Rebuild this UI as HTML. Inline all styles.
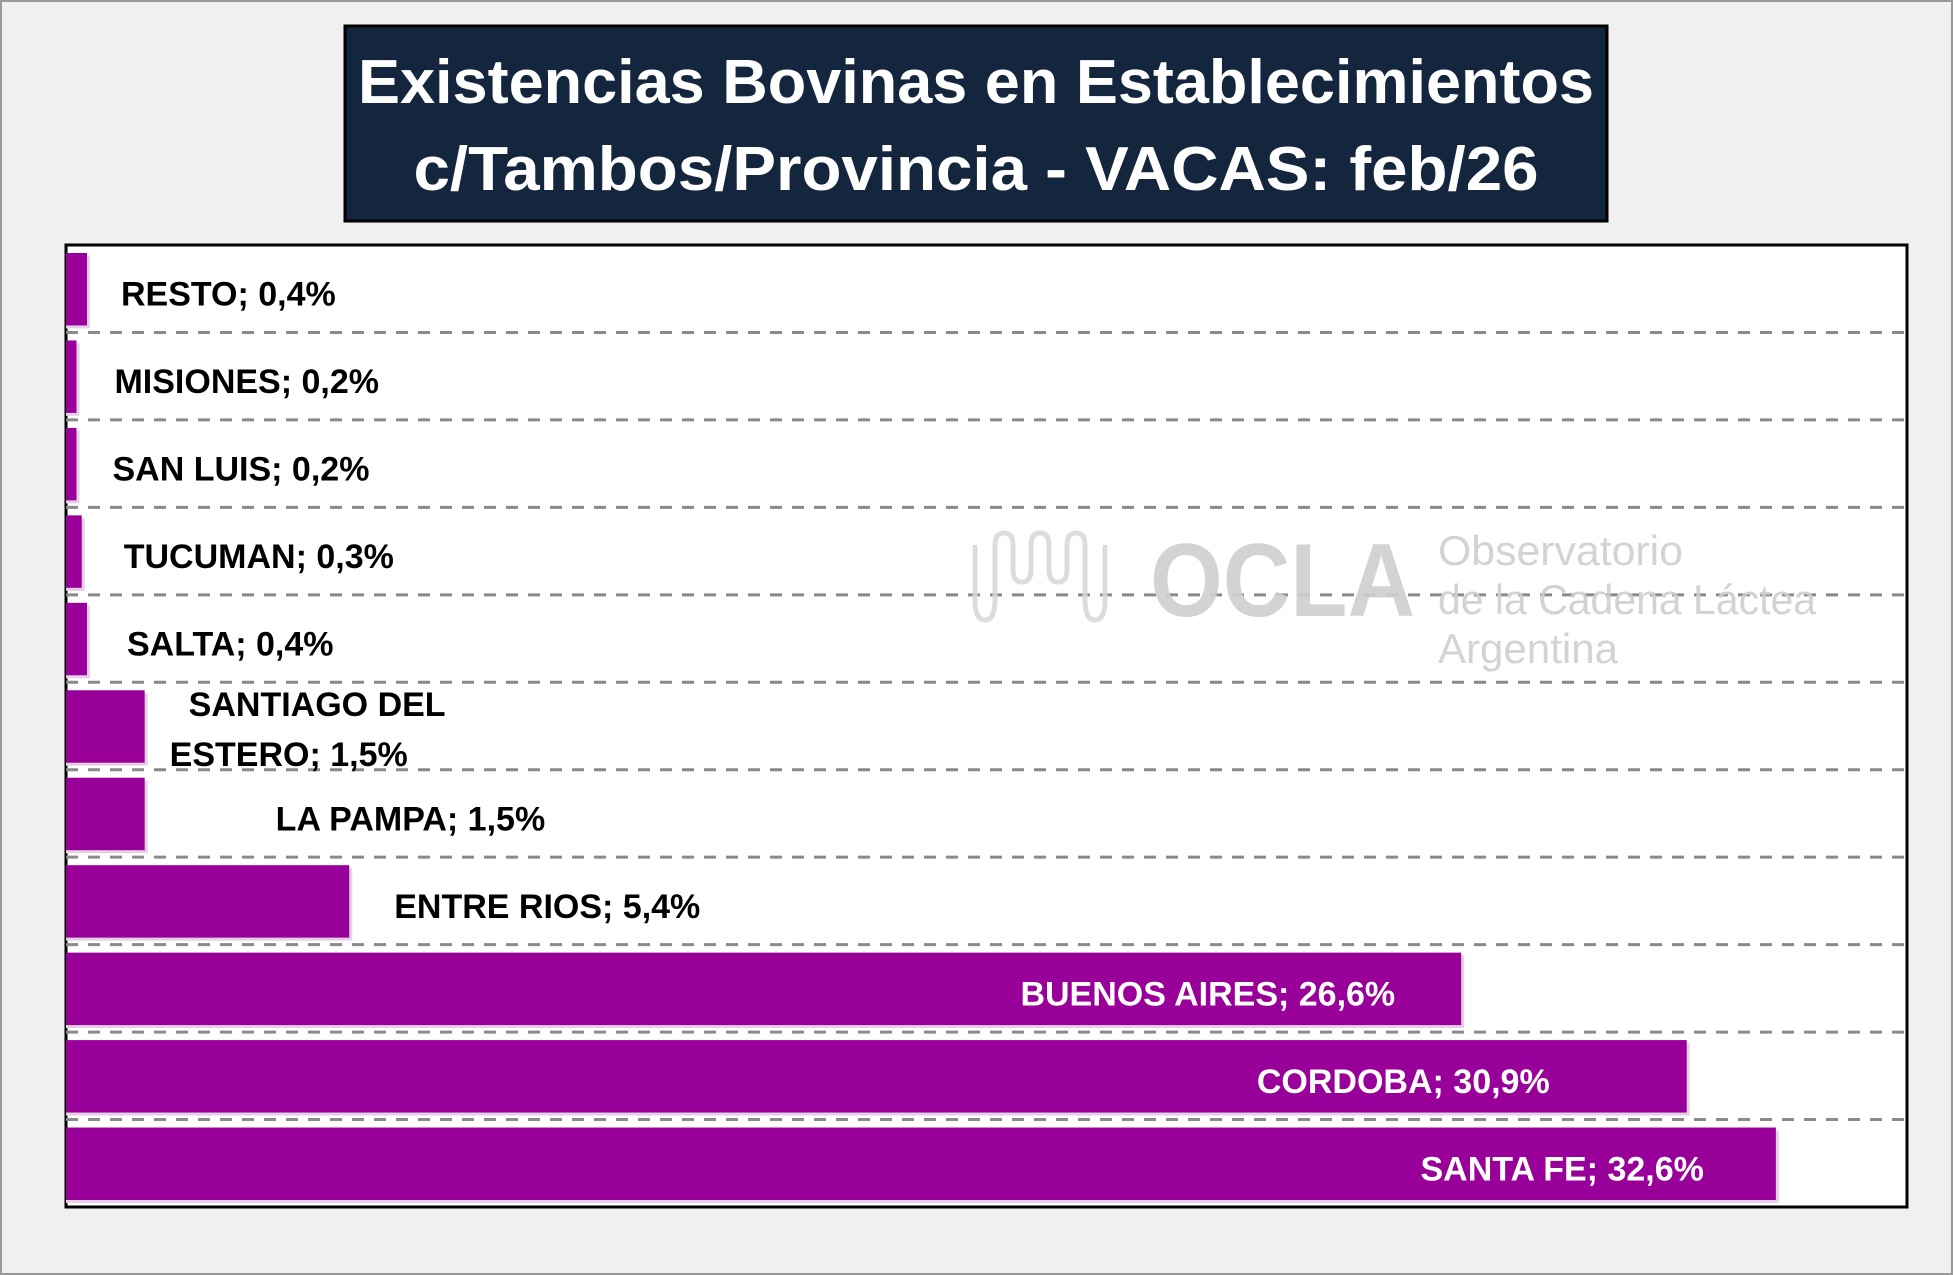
<!DOCTYPE html>
<html><head><meta charset="utf-8">
<style>
html,body{margin:0;padding:0;background:#f0f0f0;}
svg{display:block;}
text{font-family:"Liberation Sans",sans-serif;font-weight:bold;}
</style></head>
<body>
<svg id="chart" width="1953" height="1275" viewBox="0 0 1953 1275">
  <rect x="1" y="1" width="1951" height="1273" fill="#f0f0f0" stroke="#999" stroke-width="2"/>
  <g>
    <rect x="345" y="26" width="1262" height="195" fill="#14253e" stroke="#000" stroke-width="3"/>
    <text x="976" y="103" text-anchor="middle" font-size="62" fill="#fff" textLength="1236" lengthAdjust="spacingAndGlyphs">Existencias Bovinas en Establecimientos</text>
    <text x="976" y="190" text-anchor="middle" font-size="62" fill="#fff" textLength="1125" lengthAdjust="spacingAndGlyphs">c/Tambos/Provincia - VACAS: feb/26</text>
  </g>
  <rect x="66" y="245" width="1841" height="962" fill="#fff" stroke="#000" stroke-width="3"/>
  <g id="grid"></g>
  <g opacity="0.9">
    <path d="M975 545 v55 q0 20 10 20 q10 0 10 -20 v-55 q0 -12 9 -12 q9 0 9 12 v25 q0 12 9 12 q9 0 9 -12 v-25 q0 -12 9 -12 q9 0 9 12 v25 q0 12 9 12 q9 0 9 -12 v-25 q0 -12 9 -12 q9 0 9 12 v55 q0 20 10 20 q10 0 10 -20 v-55" fill="none" stroke="#d8d8d8" stroke-width="5"/>
    <text x="1150" y="616" font-size="104" fill="#cfcfcf" textLength="265" lengthAdjust="spacingAndGlyphs">OCLA</text>
    <text x="1438" y="565" font-size="42" fill="#cfcfcf" style="font-weight:normal" textLength="245" lengthAdjust="spacingAndGlyphs">Observatorio</text>
    <text x="1438" y="614" font-size="42" fill="#cfcfcf" style="font-weight:normal" textLength="378" lengthAdjust="spacingAndGlyphs">de la Cadena Láctea</text>
    <text x="1438" y="663" font-size="42" fill="#cfcfcf" style="font-weight:normal" textLength="180" lengthAdjust="spacingAndGlyphs">Argentina</text>
  </g>
  <g id="bars"></g>
  <g id="labels"></g>
</svg>
<script>
const categories = ["RESTO","MISIONES","SAN LUIS","TUCUMAN","SALTA","SANTIAGO DEL ESTERO","LA PAMPA","ENTRE RIOS","BUENOS AIRES","CORDOBA","SANTA FE"];
const values = [0.4,0.2,0.2,0.3,0.4,1.5,1.5,5.4,26.6,30.9,32.6];
const valueLabels = ["0,4%","0,2%","0,2%","0,3%","0,4%","1,5%","1,5%","5,4%","26,6%","30,9%","32,6%"];

const NS = "http://www.w3.org/2000/svg";
const plotX = 66, plotY = 245, plotW = 1841, plotH = 962;
const xMax = 35.1;
const band = plotH / categories.length;
// label offsets from bar end (layout, as placed in the original chart)
const labelDx = [34, 38, 36, 42, 40, 44, 131, 45, -66, -137, -72];
function xScale(v){ return plotX + v / xMax * plotW; }
function yBand(i){ return plotY + i * band; }

const grid = document.getElementById('grid');
for (let i = 1; i < categories.length; i++) {
  const l = document.createElementNS(NS, 'line');
  
  
  const y = yBand(i);
  l.setAttribute('x1', plotX); l.setAttribute('x2', plotX + plotW);
  l.setAttribute('y1', y); l.setAttribute('y2', y);
  l.setAttribute('stroke', '#8a8a8a'); l.setAttribute('stroke-width', '3');
  l.setAttribute('stroke-dasharray', '12 10');
  grid.appendChild(l);
}

const bars = document.getElementById('bars');
const labels = document.getElementById('labels');
categories.forEach((c, i) => {
  const y0 = yBand(i) + 8;
  const h = band - 15;
  const x1 = xScale(values[i]);
  const sh = document.createElementNS(NS, 'rect');
  
  
  sh.setAttribute('x', plotX); sh.setAttribute('y', y0 + 3);
  sh.setAttribute('width', Math.max(x1 - plotX + 3, 0)); sh.setAttribute('height', h);
  sh.setAttribute('fill', '#e6d0e6');
  bars.appendChild(sh);
  const r = document.createElementNS(NS, 'rect');
  
  
  r.setAttribute('x', plotX); r.setAttribute('y', y0);
  r.setAttribute('width', x1 - plotX); r.setAttribute('height', h);
  r.setAttribute('fill', '#990099');
  bars.appendChild(r);

  const cy = yBand(i) + band / 2 + 17;
  const inside = labelDx[i] < 0;
  if (c === "SANTIAGO DEL ESTERO") {
    const t1 = document.createElementNS(NS, 'text');
    
    
    t1.setAttribute('x', x1 + labelDx[i]); t1.setAttribute('y', cy - 27);
    t1.setAttribute('font-size', '34'); t1.setAttribute('fill', '#000');
    t1.textContent = "SANTIAGO DEL";
    labels.appendChild(t1);
    const t2 = document.createElementNS(NS, 'text');
    
    
    t2.setAttribute('x', x1 + labelDx[i] - 19); t2.setAttribute('y', cy + 23);
    t2.setAttribute('font-size', '34'); t2.setAttribute('fill', '#000');
    t2.textContent = "ESTERO; " + valueLabels[i];
    labels.appendChild(t2);
    return;
  }
  const t = document.createElementNS(NS, 'text');
  
  
  t.setAttribute('font-size', '34');
  t.setAttribute('y', cy);
  t.setAttribute('x', x1 + labelDx[i]);
  if (inside) {
    t.setAttribute('text-anchor', 'end');
    t.setAttribute('fill', '#fff');
  } else {
    t.setAttribute('fill', '#000');
  }
  t.textContent = c + "; " + valueLabels[i];
  labels.appendChild(t);
});
</script>
</body></html>
